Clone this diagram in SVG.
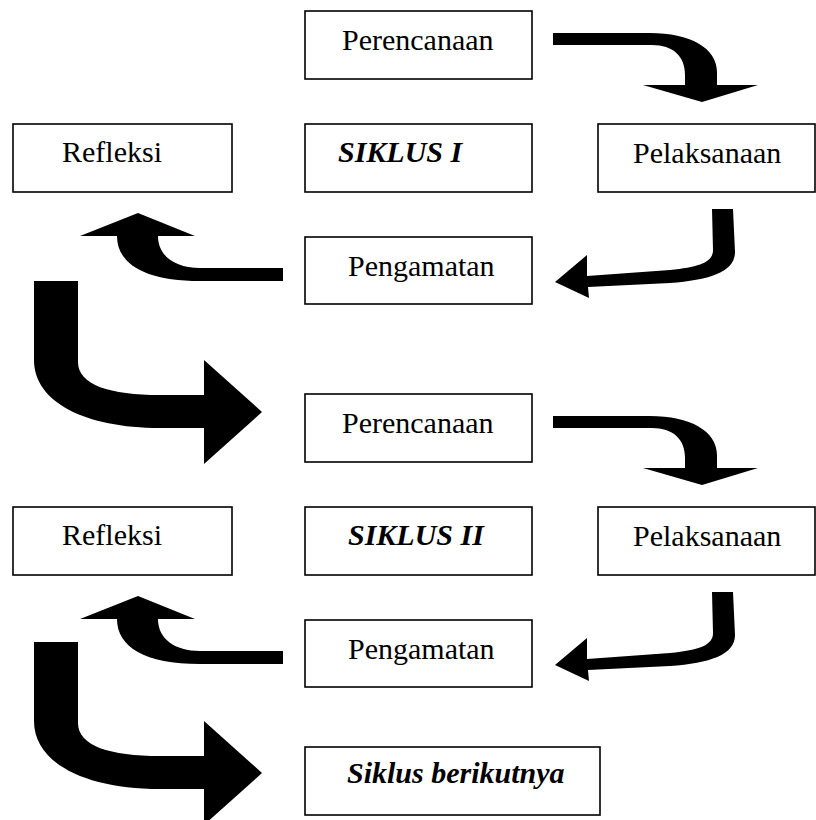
<svg xmlns="http://www.w3.org/2000/svg" width="816" height="820" viewBox="0 0 816 820">
<style>
.box{fill:#fff;stroke:#000;stroke-width:1.6}
.t{font-family:"Liberation Serif","Times New Roman",serif;font-size:30px;fill:#000}
.bi{font-weight:bold;font-style:italic}
.arr{fill:#000;stroke:none}
</style>
<rect width="816" height="820" fill="#fff"/>
<g id="connectors">
  <path id="a1" class="arr" d="M553,33 L650,33 C690,33 717,48 717,72 L717,85 L758,85 L702,102 L643,85 L685,85 L685,75 C685,56 673,45 652,45 L553,45 Z"/>
  <path id="b1" class="arr" d="M712,209 L733,209 L735,252 C735,272 710,280 670,283 L588,287 L589,298 L555,282 L587,255 L587,276 L670,270 C700,267 713,262 713,250 Z"/>
  <path id="c1" class="arr" d="M283,268 L200,268 C175,268 158,256 158,236 L195,236 L138,213 L80,236 L117,236 C117,264 145,281 200,281 L283,281 Z"/>
  <path id="d1" class="arr" d="M34,281 L78,281 L78,362 C78,385 110,395 160,395 L204,395 L204,360 L262,412 L204,464 L204,428 L160,428 C85,428 34,402 34,360 Z"/>
  <g transform="translate(0,383)">
    <path id="a2" class="arr" d="M553,33 L650,33 C690,33 717,48 717,72 L717,85 L758,85 L702,102 L643,85 L685,85 L685,75 C685,56 673,45 652,45 L553,45 Z"/>
    <path id="b2" class="arr" d="M712,209 L733,209 L735,252 C735,272 710,280 670,283 L588,287 L589,298 L555,282 L587,255 L587,276 L670,270 C700,267 713,262 713,250 Z"/>
    <path id="c2" class="arr" d="M283,268 L200,268 C175,268 158,256 158,236 L195,236 L138,213 L80,236 L117,236 C117,264 145,281 200,281 L283,281 Z"/>
  </g>
  <path id="d2" class="arr" transform="translate(0,361)" d="M34,281 L78,281 L78,362 C78,385 110,395 160,395 L204,395 L204,360 L262,412 L204,464 L204,428 L160,428 C85,428 34,402 34,360 Z"/>
</g>
<g id="perencanaan1"><rect class="box" x="305" y="11" width="227" height="68"/><text class="t" x="342" y="50">Perencanaan</text></g>
<g id="refleksi1"><rect class="box" x="13" y="124" width="219" height="68"/><text class="t" x="62" y="162">Refleksi</text></g>
<g id="siklus1"><rect class="box" x="305" y="124" width="227" height="68"/><text class="t bi" x="338" y="162">SIKLUS I</text></g>
<g id="pelaksanaan1"><rect class="box" x="598" y="124" width="217" height="68"/><text class="t" x="633" y="163">Pelaksanaan</text></g>
<g id="pengamatan1"><rect class="box" x="305" y="237" width="227" height="67"/><text class="t" x="348" y="276">Pengamatan</text></g>
<g id="perencanaan2"><rect class="box" x="305" y="394" width="227" height="68"/><text class="t" x="342" y="433">Perencanaan</text></g>
<g id="refleksi2"><rect class="box" x="13" y="507" width="219" height="68"/><text class="t" x="62" y="545">Refleksi</text></g>
<g id="siklus2"><rect class="box" x="305" y="507" width="227" height="68"/><text class="t bi" x="348" y="545">SIKLUS II</text></g>
<g id="pelaksanaan2"><rect class="box" x="598" y="507" width="217" height="68"/><text class="t" x="633" y="546">Pelaksanaan</text></g>
<g id="pengamatan2"><rect class="box" x="305" y="620" width="227" height="67"/><text class="t" x="348" y="659">Pengamatan</text></g>
<g id="siklus-berikutnya"><rect class="box" x="305" y="747" width="295" height="68"/><text class="t bi" x="347" y="783">Siklus berikutnya</text></g>
</svg>
